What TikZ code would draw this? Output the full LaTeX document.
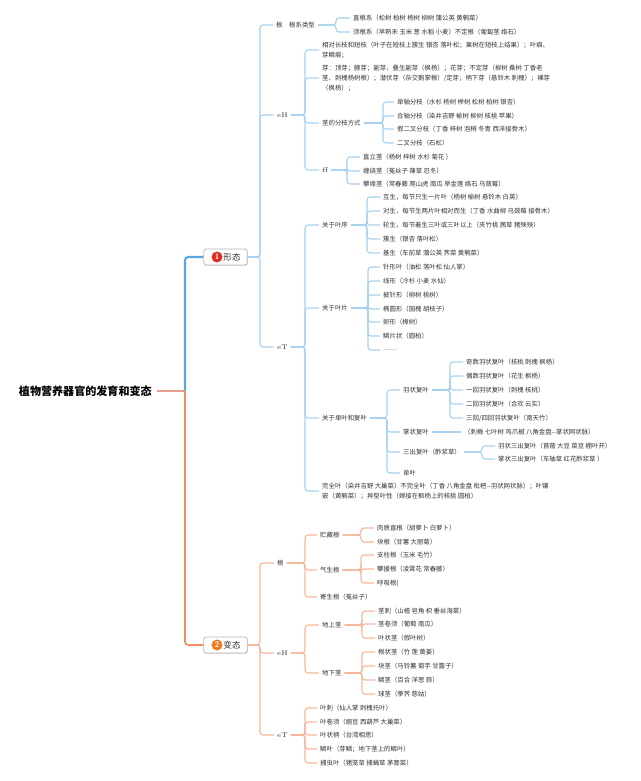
\documentclass[tikz,border=0pt]{standalone}
\usepackage{fontspec}
\newfontfamily\cjk{Noto Sans CJK SC}
\definecolor{txt}{HTML}{333333}
\definecolor{lblue}{HTML}{A6D2F0}
\definecolor{dblue}{HTML}{5AA6E0}
\definecolor{lorange}{HTML}{F5B797}
\definecolor{dorange}{HTML}{EF8F5F}
\definecolor{pinkl}{HTML}{E3A08E}
\definecolor{badgered}{HTML}{E0281E}
\definecolor{badgeorange}{HTML}{F07A1E}
\newcommand\kids[3]{\foreach \kk in {#3}{\draw[#1] (#2.east) -- (#2bar) |- (\kk.west);}}
\begin{document}
\begin{tikzpicture}[x=0.75pt,y=-0.75pt,
  lbl/.style={font=\cjk\fontsize{4.8}{7.6}\selectfont, inner xsep=2.2pt, inner ysep=0.8pt, anchor=west, align=left, text=txt},
  elbl/.style={font=\fontsize{5}{6}\selectfont, inner xsep=2.2pt, inner ysep=0.8pt, anchor=west, text=txt},
  cb/.style={draw=lblue, line width=0.8pt, rounded corners=2.2pt},
  co/.style={draw=lorange, line width=0.8pt, rounded corners=2.2pt},
  thb/.style={draw=dblue, line width=1.6pt, rounded corners=2.5pt},
  tho/.style={draw=dorange, line width=1.3pt, rounded corners=2.5pt},
  tline/.style={draw=pinkl, line width=1.6pt},
  boxnode/.style={draw=black!28, fill=white, rounded corners=1.8pt, line width=0.6pt, minimum width=32.5pt, minimum height=12pt, inner sep=0pt,
     preaction={fill=black!12, transform canvas={xshift=0.5pt,yshift=-0.7pt}}},
  badge/.style={circle, inner sep=0pt, minimum size=8.2pt, text=white, font=\sffamily\bfseries\fontsize{6}{6}\selectfont},
  btext/.style={font=\cjk\fontsize{6.4}{7}\selectfont, inner sep=0pt, text=txt},
  titlenode/.style={font=\cjk\bfseries\fontsize{8.3}{9}\selectfont, inner xsep=3.5pt, anchor=west, text=black}
]
\useasboundingbox (0,0) rectangle (640,781);
\fill[white] (0,0) rectangle (640,781);

% ---- root ----
\node[titlenode] (title) at (14,391) {植物营养器官的发育和变态};
\coordinate (jn) at (185,391);
\node[boxnode] (b1) at (225.5,257) {};
\node[badge, fill=badgered] (c1) at (217,257) {1};
\node[btext] (x1) at (232,257) {形态};
\node[boxnode] (b2) at (225.5,645) {};
\node[badge, fill=badgeorange] (c2) at (217,645) {2};
\node[btext] (x2) at (232,645) {变态};
\draw[thb] (jn) |- (b1.west);
\draw[tho] (jn) |- (b2.west);
\draw[tline] (title.east) -- (jn);

% ================= 形态 =================
\node[lbl] (k1) at (273,25) {根};
\node[lbl] (k1a) at (286,25) {根系类型};
\node[lbl] (r1) at (350,18) {直根系（松树 柏树 杨树 柳树 蒲公英 黄鹌菜）};
\node[lbl] (r2) at (350,32) {须根系（早熟禾 玉米 葱 水稻 小麦）不定根（匍匐茎 络石）};

\node[elbl] (k2) at (274,115) {eH};
\node[lbl] (s1) at (319,50) {相对长枝和短枝（叶子在短枝上簇生 银杏 落叶松；果树在短枝上结果）；叶痕、\\芽鳞痕；};
\node[lbl] (s2) at (319,78) {芽：顶芽；腋芽；副芽，叠生副芽（枫杨）；花芽；不定芽（柳树 桑树 丁香老\\茎、刺槐杨树根）；潜伏芽（杂交鹅掌楸）/定芽；柄下芽（悬铃木 刺槐）；裸芽\\（枫杨）；};
\node[lbl] (s3) at (319,123) {茎的分枝方式};
\node[lbl] (s3a) at (394,102) {单轴分枝（水杉 杨树 榉树 松树 柏树 银杏）};
\node[lbl] (s3b) at (394,116) {合轴分枝（染井吉野 榆树 柳树 核桃 苹果）};
\node[lbl] (s3c) at (394,129) {假二叉分枝（丁香 梓树 泡桐 冬青 西洋接骨木）};
\node[lbl] (s3d) at (394,143) {二叉分枝（石松）};
\node[elbl] (s4) at (319,170) {ff};
\node[lbl] (s4a) at (360,157) {直立茎（杨树 梓树 水杉 菊花 ）};
\node[lbl] (s4b) at (360,171) {缠绕茎（菟丝子 葎草 忍冬）};
\node[lbl] (s4c) at (360,184) {攀缘茎（常春藤 爬山虎 南瓜 旱金莲 络石 乌蔹莓）};

\node[elbl] (k3) at (274,347) {eT};
\node[lbl] (t1) at (319,225) {关于叶序};
\node[lbl] (t1a) at (380,197) {互生，每节只生一片叶（杨树 榆树 悬铃木 白英）};
\node[lbl] (t1b) at (380,211) {对生，每节生两片叶相对而生（丁香 水曲柳 乌蔹莓 接骨木）};
\node[lbl] (t1c) at (380,225) {轮生，每节着生三叶或三叶以上（夹竹桃 茜草 猪殃殃）};
\node[lbl] (t1d) at (380,239) {簇生（银杏 落叶松）};
\node[lbl] (t1e) at (380,253) {基生（车前草 蒲公英 荠菜 黄鹌菜）};
\node[lbl] (t2) at (319,308) {关于叶片};
\node[lbl] (t2a) at (380,267) {针形叶（油松 落叶松 仙人掌）};
\node[lbl] (t2b) at (380,281) {线形（冷杉 小麦 水仙）};
\node[lbl] (t2c) at (380,295) {披针形（柳树 桃树）};
\node[lbl] (t2d) at (380,309) {椭圆形（国槐 胡枝子）};
\node[lbl] (t2e) at (380,322) {卵形（樟树）};
\node[lbl] (t2f) at (380,336) {鳞片状（圆柏）};
\node[lbl] (t2g) at (380,350) {……};
\node[lbl] (t3) at (319,418) {关于单叶和复叶};
\node[lbl] (u1) at (400,390) {羽状复叶};
\node[lbl] (u1a) at (463,362) {奇数羽状复叶（核桃 刺槐 枫杨）};
\node[lbl] (u1b) at (463,376) {偶数羽状复叶（花生 枫杨）};
\node[lbl] (u1c) at (463,390) {一回羽状复叶（刺槐 核桃）};
\node[lbl] (u1d) at (463,404) {二回羽状复叶（合欢 云实）};
\node[lbl] (u1e) at (463,418) {三回/四回羽状复叶（南天竹）};
\node[lbl] (u2) at (400,432) {掌状复叶};
\node[lbl] (u2a) at (461,432) {（刺楸 七叶树 鸡爪槭 八角金盘--掌状网状脉）};
\node[lbl] (u3) at (400,452) {三出复叶（酢浆草）};
\node[lbl] (u3a) at (495,446) {羽状三出复叶（苜蓿 大豆 菜豆 棚叶开）};
\node[lbl] (u3b) at (495,459) {掌状三出复叶（车轴草 红花酢浆草 ）};
\node[lbl] (u4) at (400,473) {单叶};
\node[lbl] (t4) at (319,491) {完全叶（染井吉野 大巢菜）不完全叶（丁香 八角金盘 枇杷--羽状网状脉）；叶镶\\嵌（黄鹌菜）；异型叶性（嫁接在枫杨上的核桃 圆柏）};

% ================= 变态 =================
\node[lbl] (m1) at (274,563) {根};
\node[lbl] (n1) at (317,535) {贮藏根};
\node[lbl] (n1a) at (374,528) {肉质直根（胡萝卜 白萝卜）};
\node[lbl] (n1b) at (374,542) {块根（甘薯 大丽菊）};
\node[lbl] (n2) at (317,570) {气生根};
\node[lbl] (n2a) at (374,555) {支柱根（玉米 毛竹）};
\node[lbl] (n2b) at (374,569) {攀援根（凌霄花 常春藤）};
\node[lbl] (n2c) at (374,583) {呼吸根(};
\node[lbl] (n3) at (317,597) {寄生根（菟丝子）};

\node[elbl] (m2) at (274,653) {eH};
\node[lbl] (o1) at (319,625) {地上茎};
\node[lbl] (o1a) at (375,611) {茎刺（山楂 皂角 枳 垂丝海棠）};
\node[lbl] (o1b) at (375,624) {茎卷须（葡萄 南瓜）};
\node[lbl] (o1c) at (375,638) {叶状茎（假叶树）};
\node[lbl] (o2) at (319,673) {地下茎};
\node[lbl] (o2a) at (375,652) {根状茎（竹 莲 黄姜）};
\node[lbl] (o2b) at (375,666) {块茎（马铃薯 菊芋 甘露子）};
\node[lbl] (o2c) at (375,680) {鳞茎（百合 洋葱 蒜）};
\node[lbl] (o2d) at (375,694) {球茎（荸荠 慈姑）};

\node[elbl] (m3) at (274,735) {eT};
\node[lbl] (p1) at (317,708) {叶刺（仙人掌 刺槐托叶）};
\node[lbl] (p2) at (317,722) {叶卷须（豌豆 西葫芦 大巢菜）};
\node[lbl] (p3) at (317,735) {叶状柄（台湾相思）};
\node[lbl] (p4) at (317,749) {鳞叶（芽鳞；地下茎上的鳞叶）};
\node[lbl] (p5) at (317,763) {捕虫叶（猪笼草 捕蝇草 茅膏菜）};

% ---- bar coordinates ----
\coordinate (b1bar) at (260,257);
\coordinate (k1abar) at (336,25);
\coordinate (k2bar) at (305,115);
\coordinate (s3bar) at (383,123);
\coordinate (s4bar) at (347,170);
\coordinate (k3bar) at (305,347);
\coordinate (t1bar) at (367,225);
\coordinate (t2bar) at (368,308);
\coordinate (t3bar) at (387,418);
\coordinate (u1bar) at (450,390);
\coordinate (u3bar) at (482,452);
\coordinate (b2bar) at (260,645);
\coordinate (m1bar) at (305,563);
\coordinate (n1bar) at (361,535);
\coordinate (n2bar) at (361,570);
\coordinate (m2bar) at (305,653);
\coordinate (o1bar) at (362,625);
\coordinate (o2bar) at (362,673);
\coordinate (m3bar) at (305,735);

% ---- connectors ----
\kids{cb}{b1}{k1,k2,k3}
\kids{cb}{k1a}{r1,r2}
\kids{cb}{k2}{s1,s2,s3,s4}
\kids{cb}{s3}{s3a,s3b,s3c,s3d}
\kids{cb}{s4}{s4a,s4b,s4c}
\kids{cb}{k3}{t1,t2,t3,t4}
\kids{cb}{t1}{t1a,t1b,t1c,t1d,t1e}
\kids{cb}{t2}{t2a,t2b,t2c,t2d,t2e,t2f,t2g}
\kids{cb}{t3}{u1,u2,u3,u4}
\kids{cb}{u1}{u1a,u1b,u1c,u1d,u1e}
\draw[cb] (u2.east) -- (u2a.west);
\kids{cb}{u3}{u3a,u3b}
\kids{co}{b2}{m1,m2,m3}
\kids{co}{m1}{n1,n2,n3}
\kids{co}{n1}{n1a,n1b}
\kids{co}{n2}{n2a,n2b,n2c}
\kids{co}{m2}{o1,o2}
\kids{co}{o1}{o1a,o1b,o1c}
\kids{co}{o2}{o2a,o2b,o2c,o2d}
\kids{co}{m3}{p1,p2,p3,p4,p5}
\end{tikzpicture}
\end{document}
